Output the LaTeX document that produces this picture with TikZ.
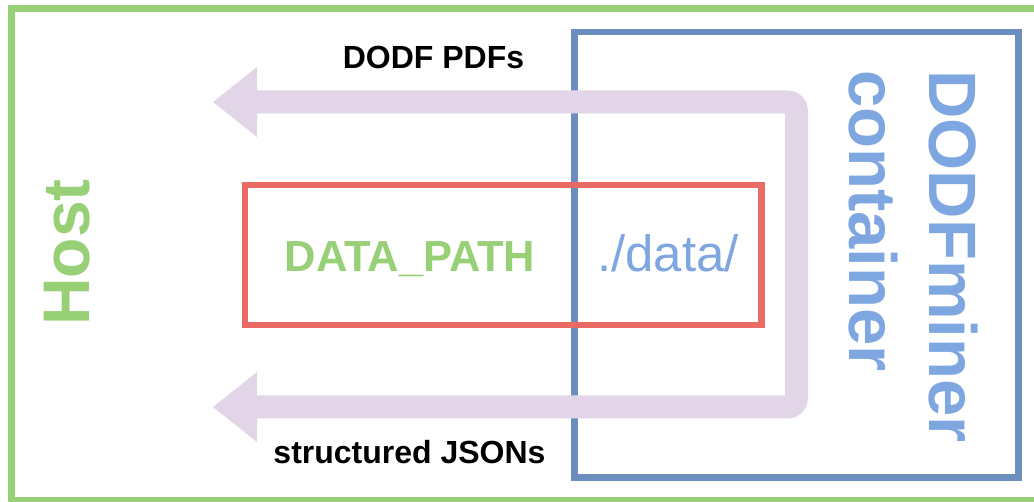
\documentclass[tikz,border=0pt]{standalone}
\usepackage{fontspec}
\setmainfont{Liberation Sans}
\usetikzlibrary{arrows.meta}
\definecolor{hostgreen}{HTML}{97D077}
\definecolor{minerblue}{HTML}{6C8EBF}
\definecolor{minertext}{HTML}{7EA6E0}
\definecolor{pathred}{HTML}{EA6B66}
\definecolor{flowpurple}{HTML}{E1D5E7}
\begin{document}
\begin{tikzpicture}[x=1pt,y=-1pt,
    frame/.style={line width=6.5pt},
    flow/.style={draw=flowpurple, line width=23pt, rounded corners=9pt,
      {Triangle[length=44pt,width=70pt,line width=0pt,round=false]}-{Triangle[length=44pt,width=70pt,line width=0pt,round=false]}},
    lbl/.style={inner sep=0pt, font=\fontsize{32}{38}\selectfont\bfseries}]
      \clip (0,0) rectangle (1034,502);
      %%%%%%%%%%%%%%%%%%%%%%%%%%%%%%%%%%%%%%%%%%%%%%%
      \draw[frame, draw=hostgreen] (11.5,8.5) rectangle (1060,500);
      \draw[frame, draw=minerblue] (574.5,32) rectangle (1018.5,477.5);
      \draw[frame, draw=pathred] (245,185) rectangle (761.5,325);
      %%%%%%%%%%%%%%%%%%%%%%%%%%%%%%%%%%%%%%%%%%%%%%%
      \coordinate (pdftip)  at (213,102);
      \coordinate (ctop)    at (796.5,102);
      \coordinate (cbot)    at (796.5,407);
      \coordinate (jsontip) at (213,407);
      \draw[flow] (pdftip) -- (ctop) -- (cbot) -- (jsontip);
      %%%%%%%%%%%%%%%%%%%%%%%%%%%%%%%%%%%%%%%%%%%%%%%
      \node[lbl] at (433.5,57)  (pdfs)  {DODF PDFs};
      \node[lbl] at (409.5,452) (jsons) {structured JSONs};
      \node[inner sep=0pt, anchor=base, text=hostgreen, font=\fontsize{43.5}{50}\selectfont\bfseries] at (410,272) (hostpath) {DATA\_PATH};
      \node[inner sep=0pt, anchor=base, text=minertext, font=\fontsize{51}{60}\selectfont] at (668,272) (minerpath) {./data/};
      %%%%%%%%%%%%%%%%%%%%%%%%%%%%%%%%%%%%%%%%%%%%%%%
      \node[inner sep=0pt, rotate=90, text=hostgreen, font=\fontsize{66}{80}\selectfont\bfseries] at (67.5,252.5) (host) {Host};
      \node[inner sep=0pt, rotate=-90, anchor=north west, align=left, text=minertext, font=\fontsize{67}{80}\selectfont\bfseries] at (978,70) (miner) {DODFminer\\container};
\end{tikzpicture}
\end{document}
